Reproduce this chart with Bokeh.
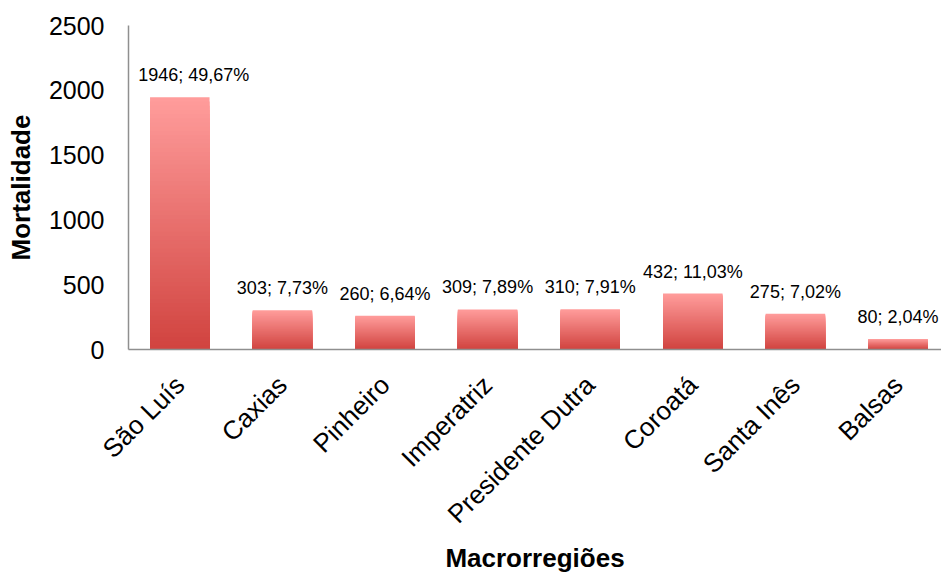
import math
from bokeh.plotting import figure
from bokeh.models import Range1d, FixedTicker, ColumnDataSource
from bokeh.core.properties import value
from bokeh.embed import file_html
from bokeh.resources import INLINE

# Mortality by macro-region
regions = ["São Luís", "Caxias", "Pinheiro", "Imperatriz",
           "Presidente Dutra", "Coroatá", "Santa Inês", "Balsas"]
deaths = [1946, 303, 260, 309, 310, 432, 275, 80]
shares = [49.67, 7.73, 6.64, 7.89, 7.91, 11.03, 7.02, 2.04]
y_ticks = [0, 500, 1000, 1500, 2000, 2500]

FONT = "Liberation Sans"
TOP_RGB = (255, 156, 155)
BOTTOM_RGB = (208, 66, 62)
STEPS = 60
BAR_WIDTH = 0.58
# horizontal nudge (px) so the first label stays inside the plot frame
label_nudge = [14, 0, 0, 0, 0, 0, 0, 0]

centers = [i + 0.5 for i in range(len(regions))]

p = figure(width=941, height=575, output_backend="svg", toolbar_location=None,
           x_range=Range1d(0, 7.924), y_range=Range1d(0, 2500),
           min_border_left=128, min_border_right=0, min_border_top=25,
           min_border_bottom=223)
p.outline_line_color = None
p.xgrid.grid_line_color = None
p.ygrid.grid_line_color = None
p.background_fill_color = "white"
p.border_fill_color = "white"


def blend(t):
    r = round(BOTTOM_RGB[0] + (TOP_RGB[0] - BOTTOM_RGB[0]) * t)
    g = round(BOTTOM_RGB[1] + (TOP_RGB[1] - BOTTOM_RGB[1]) * t)
    b = round(BOTTOM_RGB[2] + (TOP_RGB[2] - BOTTOM_RGB[2]) * t)
    return f"#{r:02x}{g:02x}{b:02x}"


# Vertical gradient in each bar: stacked overlapping slabs, tallest first
xs, tops, colors = [], [], []
for k in range(STEPS, 0, -1):
    t = k / STEPS
    for c, v in zip(centers, deaths):
        xs.append(c)
        tops.append(v * t)
        colors.append(blend(t))
p.vbar(x=xs, top=tops, bottom=0, width=BAR_WIDTH,
       fill_color=colors, line_color=None)

# Value labels above the bars
labels = [f"{v}; {s:.2f}".replace(".", ",") + "%" for v, s in zip(deaths, shares)]
src = ColumnDataSource(dict(x=centers, y=deaths, text=labels, dx=label_nudge))
p.text(x="x", y="y", text="text", source=src, text_align="center",
       text_baseline="alphabetic", x_offset="dx", y_offset=-22,
       text_font=value(FONT), text_font_size="18px", text_color="black")

# Axes
axis_color = "#8f8f8f"
p.xaxis.ticker = FixedTicker(ticks=centers)
p.xaxis.major_label_overrides = {c: r for c, r in zip(centers, regions)}
p.xaxis.major_label_orientation = math.pi / 4
p.yaxis.ticker = FixedTicker(ticks=y_ticks)

for ax in (p.xaxis, p.yaxis):
    ax.axis_line_color = axis_color
    ax.axis_line_width = 1.5
    ax.major_tick_line_color = None
    ax.minor_tick_line_color = None
    ax.major_tick_out = 0
    ax.major_tick_in = 0
    ax.major_label_text_font = FONT
    ax.major_label_text_color = "black"
    ax.axis_label_text_font = FONT
    ax.axis_label_text_font_size = "26px"
    ax.axis_label_text_font_style = "bold"
    ax.axis_label_text_color = "black"

p.xaxis.major_label_text_font_size = "26px"
p.yaxis.major_label_text_font_size = "25px"
p.yaxis.major_label_standoff = 24
p.xaxis.major_label_standoff = 31
p.yaxis.axis_label = "Mortalidade"
p.xaxis.axis_label = "Macrorregiões"
p.yaxis.axis_label_standoff = 10
p.xaxis.axis_label_standoff = 0

open("out.html", "w").write(file_html(p, INLINE))
